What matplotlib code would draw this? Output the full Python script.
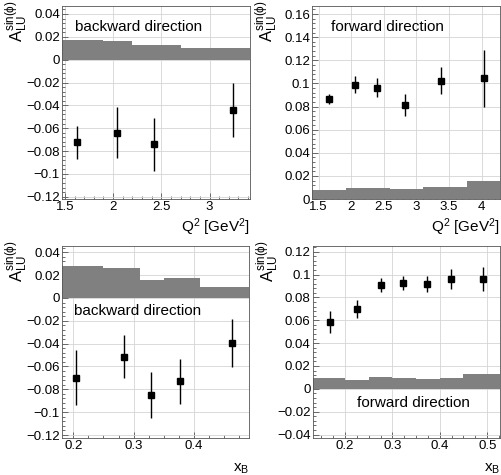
import matplotlib
matplotlib.use("Agg")
import matplotlib.pyplot as plt
from matplotlib.ticker import MultipleLocator, AutoMinorLocator, FuncFormatter

plt.rcParams['font.family'] = ['Liberation Sans', 'DejaVu Sans']
plt.rcParams['mathtext.fontset'] = 'custom'
plt.rcParams['mathtext.rm'] = 'Liberation Sans'
plt.rcParams['mathtext.it'] = 'Liberation Sans'
plt.rcParams['axes.unicode_minus'] = True

# Q2 binning, backward direction
q2_bw = [1.625, 2.04, 2.42, 3.24]
a_q2_bw = [-0.0725, -0.0638, -0.0742, -0.0443]
e_q2_bw = [0.0143, 0.0225, 0.023, 0.0237]
sys_q2_bw_edges = [1.0, 1.9, 2.2, 2.7, 4.0]
sys_q2_bw = [0.0172, 0.0167, 0.0130, 0.0103]

# Q2 binning, forward direction
q2_fw = [1.66, 2.06, 2.39, 2.82, 3.37, 4.03]
a_q2_fw = [0.0865, 0.099, 0.0963, 0.0815, 0.1025, 0.1045]
e_q2_fw = [0.0045, 0.007, 0.008, 0.0095, 0.012, 0.0245]
sys_q2_fw_edges = [1.0, 1.92, 2.59, 3.10, 3.78, 5.0]
sys_q2_fw = [0.0082, 0.0096, 0.0085, 0.0108, 0.0154]

# xB binning, backward direction
xb_bw = [0.2045, 0.2833, 0.3295, 0.3778, 0.4633]
a_xb_bw = [-0.0697, -0.0514, -0.0849, -0.0729, -0.0394]
e_xb_bw = [0.024, 0.0186, 0.020, 0.0195, 0.021]
sys_xb_bw_edges = [0.1, 0.25, 0.31, 0.35, 0.41, 0.6]
sys_xb_bw = [0.0277, 0.026, 0.016, 0.0177, 0.0097]

# xB binning, forward direction
xb_fw = [0.168, 0.226, 0.2753, 0.323, 0.3724, 0.423, 0.491]
a_xb_fw = [0.0585, 0.0697, 0.0906, 0.0926, 0.092, 0.0961, 0.0961]
e_xb_fw = [0.0097, 0.0077, 0.006, 0.006, 0.007, 0.009, 0.0104]
sys_xb_fw_edges = [0.1, 0.2, 0.25, 0.3, 0.35, 0.4, 0.45, 0.6]
sys_xb_fw = [0.0096, 0.0078, 0.0104, 0.0093, 0.0087, 0.0096, 0.013]

W, H = 501, 475
fig = plt.figure(figsize=(W / 100, H / 100), dpi=100)


def box(l, r, t, b):
    # pixel box -> figure fraction
    return [l / W, 1 - b / H, (r - l) / W, (b - t) / H]


def fmt(v, pos):
    s = f"{v:.2f}".rstrip('0').rstrip('.')
    if s in ('-0', '0', ''):
        s = '0'
    return s.replace('-', '\u2212')


panels = [
    (box(62, 250, 6, 199), q2_bw, a_q2_bw, e_q2_bw, sys_q2_bw_edges, sys_q2_bw,
     (1.47, 3.42), (-0.122, 0.047), 0.5, 5, r'Q$^2$ [GeV$^2$]', -0.09,
     'backward direction', (0.069, 0.87)),
    (box(312, 500, 6, 199), q2_fw, a_q2_fw, e_q2_fw, sys_q2_fw_edges, sys_q2_fw,
     (1.40, 4.28), (0, 0.167), 0.5, 5, r'Q$^2$ [GeV$^2$]', -0.09,
     'forward direction', (0.10, 0.87)),
    (box(62, 249, 246, 438), xb_bw, a_xb_bw, e_xb_bw, sys_xb_bw_edges, sys_xb_bw,
     (0.181, 0.492), (-0.1226, 0.0455), 0.1, 4, r'x$_B$', -0.125,
     'backward direction', (0.064, 0.64)),
    (box(312.7, 500, 246, 438), xb_fw, a_xb_fw, e_xb_fw, sys_xb_fw_edges, sys_xb_fw,
     (0.132, 0.527), (-0.043, 0.125), 0.1, 4, r'x$_B$', -0.125,
     'forward direction', (0.238, 0.16)),
]

for rect, x, y, e, edges, sys, xl, yl, xmaj, xmin_div, xlab, xly, txt, tpos in panels:
    ax = fig.add_axes(rect)
    ax.stairs(sys, edges, baseline=0, fill=True, color='#808080', lw=0, zorder=2)
    ax.errorbar(x, y, yerr=e, fmt='s', color='black', ms=4.8, lw=1.0,
                capsize=0, zorder=3)
    ax.set_xlim(*xl)
    ax.set_ylim(*yl)
    ax.xaxis.set_major_locator(MultipleLocator(xmaj))
    ax.xaxis.set_minor_locator(AutoMinorLocator(xmin_div))
    ax.yaxis.set_major_locator(MultipleLocator(0.02))
    ax.yaxis.set_minor_locator(AutoMinorLocator(5))
    ax.xaxis.set_major_formatter(FuncFormatter(fmt))
    ax.yaxis.set_major_formatter(FuncFormatter(fmt))
    ax.tick_params(which='both', direction='in', labelsize=9.5, pad=1.5,
                   width=0.6, color='#555555')
    ax.tick_params(which='major', length=4)
    ax.tick_params(which='minor', length=2)
    ax.grid(True, which='major', color='#d4d4d4', lw=0.6, zorder=0)
    ax.set_axisbelow(True)
    for sp in ax.spines.values():
        sp.set_linewidth(0.6)
        sp.set_color('#555555')
    ax.text(tpos[0], tpos[1], txt, transform=ax.transAxes, fontsize=11,
            va='baseline', ha='left', zorder=4)
    ax.set_xlabel(xlab, fontsize=11, loc='right')
    ax.xaxis.set_label_coords(1.0, xly)
    ax.set_ylabel(r'A$_{\mathrm{LU}}^{\mathrm{sin}(\phi)}$', fontsize=12, loc='top')
    ax.yaxis.set_label_coords(-0.17, 1.03)

fig.savefig('out.png', dpi=100)
